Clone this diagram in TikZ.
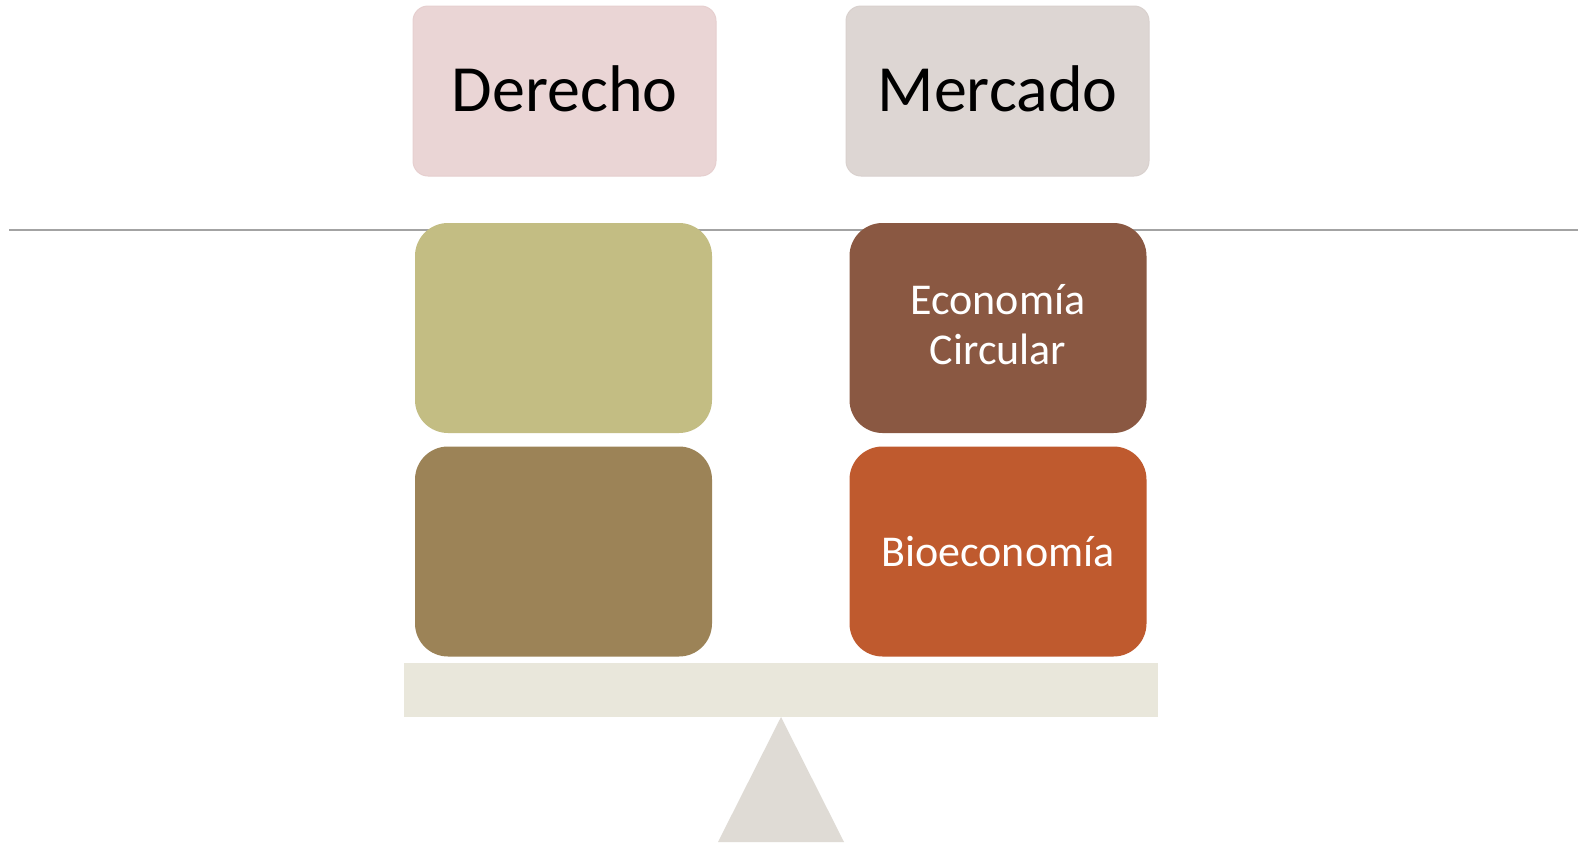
\documentclass[tikz,border=0pt]{standalone}
\usepackage{fontspec}
\setmainfont{Carlito}
\definecolor{pinkc}{HTML}{EAD5D5}
\definecolor{pinkd}{HTML}{E6CFCF}
\definecolor{greyc}{HTML}{DDD6D3}
\definecolor{greyd}{HTML}{D9D1CE}
\definecolor{olivec}{HTML}{C3BD83}
\definecolor{khakic}{HTML}{9C8357}
\definecolor{brownc}{HTML}{8A5842}
\definecolor{orangec}{HTML}{BF5A2E}
\definecolor{plankc}{HTML}{E9E7DB}
\definecolor{pivotc}{HTML}{DFDBD5}
\definecolor{linec}{HTML}{A3A3A3}
\begin{document}
\begin{tikzpicture}[x=1pt,y=-1pt,
  topbox/.style={rectangle, rounded corners=15pt, minimum width=303pt, minimum height=170pt, inner sep=0pt, font=\fontsize{66}{70}\selectfont, text=black, line width=1pt},
  weightbox/.style={rectangle, rounded corners=33pt, minimum width=297pt, minimum height=210pt, inner sep=0pt, align=center, font=\fontsize{44}{50}\selectfont, text=white}]
\useasboundingbox (0,0) rectangle (1580,846);
\fill[white] (0,0) rectangle (1580,846);
% beam line
\coordinate (l1) at (9,229.5);
\coordinate (l2) at (1578,229.5);
\draw[linec, line width=2pt] (l1) -- (l2);
% top labels
\node[topbox, fill=pinkc, draw=pinkd] (derecho) at (564.5,91) {\raisebox{2.5pt}[\height][\depth]{Derecho}};
\node[topbox, fill=greyc, draw=greyd] (mercado) at (997.5,91) {\raisebox{2.5pt}[\height][\depth]{Mercado}};
% weights
\node[weightbox, fill=olivec] (w1) at (563.5,328) {};
\node[weightbox, fill=khakic] (w2) at (563.5,551.5) {};
\node[weightbox, fill=brownc] (w3) at (998,328) {\raisebox{-1.5pt}[\height][\depth]{\begin{tabular}{@{}c@{}}Economía\\[-0.5pt]Circular\end{tabular}}};
\node[weightbox, fill=orangec] (w4) at (998,551.5) {Bioeconomía};
% plank
\node[rectangle, fill=plankc, minimum width=754pt, minimum height=54pt, inner sep=0pt] (plank) at (781,690) {};
% pivot
\fill[pivotc] (781,717) -- (844,842) -- (718,842) -- cycle;
\end{tikzpicture}
\end{document}
